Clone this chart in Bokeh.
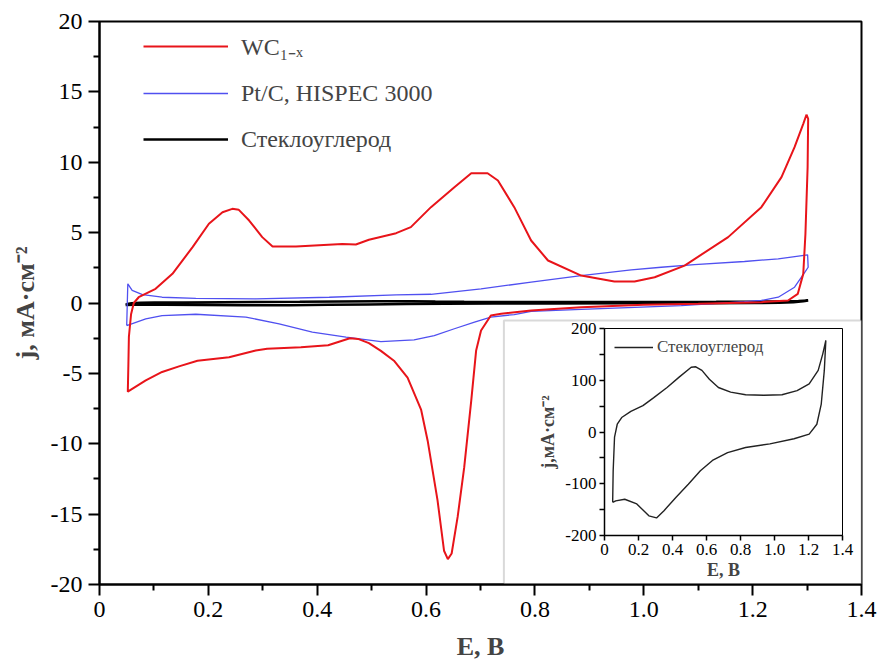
from bokeh.plotting import figure
from bokeh.models import (Legend, LegendItem, BoxAnnotation, FixedTicker, Range1d,
                          NumeralTickFormatter)
from bokeh.layouts import column
from bokeh.embed import file_html
from bokeh.resources import INLINE

# ---------------- data ----------------
# WC(1-x): potential E, V and current density j, mA/cm2 (closed loop)
red_E = [1.299, 1.302, 1.301, 1.297, 1.293, 1.283, 1.265, 1.216, 1.10, 1.00, 0.885, 0.793,
         0.738, 0.719, 0.701, 0.692, 0.683, 0.670, 0.658, 0.647, 0.640, 0.633, 0.621, 0.603,
         0.591, 0.566, 0.541, 0.517, 0.495, 0.475, 0.46, 0.44, 0.42, 0.37, 0.308, 0.287,
         0.238, 0.18, 0.146, 0.115, 0.085, 0.052, 0.053, 0.054, 0.058, 0.063, 0.072, 0.103,
         0.134, 0.171, 0.201, 0.226, 0.244, 0.256, 0.275, 0.299, 0.318, 0.361, 0.446, 0.471,
         0.495, 0.545, 0.572, 0.609, 0.652, 0.683, 0.713, 0.732, 0.762, 0.793, 0.824, 0.885,
         0.946, 0.983, 1.020, 1.075, 1.155, 1.216, 1.253, 1.277, 1.293, 1.299]
red_j = [13.39, 13.09, 9.65, 4.92, 2.07, 0.65, 0.18, 0.06, -0.05, -0.13, -0.3, -0.53,
         -0.77, -0.89, -1.95, -3.37, -6.93, -11.7, -15.2, -17.8, -18.2, -17.6, -14.0, -9.8,
         -7.6, -5.3, -4.1, -3.4, -2.85, -2.55, -2.5, -2.75, -3.0, -3.14, -3.25, -3.37,
         -3.85, -4.1, -4.5, -4.9, -5.5, -6.3, -4.5, -2.4, -0.8, 0.0, 0.41, 1.01,
         2.07, 3.97, 5.63, 6.45, 6.69, 6.62, 5.86, 4.68, 4.01, 4.01, 4.2, 4.16,
         4.49, 4.96, 5.39, 6.81, 8.23, 9.22, 9.22, 8.7, 6.81, 4.44, 3.02, 1.95,
         1.53, 1.53, 1.83, 2.66, 4.68, 6.81, 8.94, 11.07, 12.73, 13.39]

# Pt/C HISPEC 3000
blue_E = [0.050, 0.052, 0.060, 0.079, 0.115, 0.177, 0.287, 0.422, 0.545, 0.609, 0.701, 0.793,
          0.885, 0.977, 1.032, 1.093, 1.185, 1.247, 1.301, 1.302, 1.296, 1.277, 1.247, 1.216,
          1.185, 1.069, 0.885, 0.793, 0.762, 0.719, 0.689, 0.652, 0.615, 0.578, 0.517, 0.453,
          0.391, 0.330, 0.269, 0.177, 0.115, 0.085, 0.050]
blue_j = [-1.6, 1.36, 0.89, 0.6, 0.41, 0.33, 0.3, 0.41, 0.58, 0.62, 1.01, 1.48,
          1.95, 2.36, 2.54, 2.73, 2.95, 3.14, 3.42, 2.54, 2.19, 1.12, 0.41, 0.18,
          0.1, -0.18, -0.46, -0.6, -0.82, -1.0, -1.36, -1.83, -2.31, -2.62, -2.75, -2.43,
          -2.07, -1.48, -1.0, -0.8, -0.89, -1.12, -1.6]

# Glassy carbon (Стеклоуглерод)
gc_E = [0.048, 0.051, 0.059, 0.075, 0.101, 0.155, 0.226, 0.288, 0.368, 0.439, 0.510, 0.537,
        0.573, 0.617, 0.670, 0.742, 0.830, 0.937, 1.044, 1.133, 1.204, 1.257, 1.284, 1.302,
        1.293, 1.275, 1.249, 1.204, 1.115, 0.973, 0.830, 0.724, 0.635, 0.564, 0.493, 0.421,
        0.350, 0.306, 0.261, 0.190, 0.119, 0.066, 0.048]
# inset units
gc_j_inset = [-136, -75, -10, 15, 28, 40, 51, 66, 86, 106, 125, 126,
              119, 102, 86, 77, 72, 71, 72, 80, 93, 119, 151, 177,
              119, 54, 15, -4, -13, -23, -30, -40, -55, -75, -101, -126,
              -152, -166, -162, -139, -130, -133, -136]
# main-plot units
gc_j_main = [-0.136, -0.075, -0.010, 0.015, 0.028, 0.040, 0.051, 0.066, 0.086, 0.106, 0.125, 0.126,
             0.119, 0.102, 0.086, 0.077, 0.072, 0.071, 0.072, 0.080, 0.093, 0.119, 0.151, 0.177,
             0.119, 0.054, 0.015, -0.004, -0.013, -0.023, -0.030, -0.040, -0.055, -0.075, -0.101, -0.126,
             -0.152, -0.166, -0.162, -0.139, -0.130, -0.133, -0.136]

main_x_ticks = [0, 0.2, 0.4, 0.6, 0.8, 1.0, 1.2, 1.4]
main_x_minor = [0.1, 0.3, 0.5, 0.7, 0.9, 1.1, 1.3]
main_y_ticks = [-20, -15, -10, -5, 0, 5, 10, 15, 20]
main_y_minor = [-17.5, -12.5, -7.5, -2.5, 2.5, 7.5, 12.5, 17.5]
inset_y_ticks = [-200, -100, 0, 100, 200]
inset_y_minor = [-150, -50, 50, 150]

labels = ["WC\u2081\u208b\u2093", "Pt/C, HISPEC 3000", "Стеклоуглерод"]

SERIF = "Liberation Serif"
RED = "#e8141a"
BLUE = "#5050f0"

# ---------------- main figure ----------------
p = figure(width=879, height=668, x_range=Range1d(0, 1.4), y_range=Range1d(-20, 20),
           output_backend="svg", toolbar_location=None,
           min_border_left=99, min_border_right=18, min_border_top=21, min_border_bottom=84)
p.xgrid.visible = False
p.ygrid.visible = False
p.outline_line_color = "black"
p.outline_line_width = 2
p.background_fill_color = "white"
p.border_fill_color = "white"

for ax in (p.xaxis[0], p.yaxis[0]):
    ax.axis_line_width = 2
    ax.major_tick_line_width = 2
    ax.minor_tick_line_width = 2
    ax.major_tick_in = 0
    ax.minor_tick_in = 0
    ax.major_tick_out = 11
    ax.minor_tick_out = 6
    ax.major_label_text_font = SERIF
    ax.major_label_text_font_size = "24px"
    ax.major_label_text_color = "black"
    ax.axis_label_text_font = SERIF
    ax.axis_label_text_font_size = "26px"
    ax.axis_label_text_font_style = "bold"
    ax.major_label_standoff = 6

p.xaxis.ticker = FixedTicker(ticks=main_x_ticks, minor_ticks=main_x_minor)
p.yaxis.ticker = FixedTicker(ticks=main_y_ticks, minor_ticks=main_y_minor)
p.xaxis.formatter = NumeralTickFormatter(format="0.0")
p.xaxis.major_label_overrides = {0: "0"}
p.yaxis.major_label_overrides = {t: str(t) for t in main_y_ticks}
p.xaxis.axis_label = "E, B"
p.yaxis.axis_label = "j, мА·см\u207b\u00b2"
p.xaxis.axis_label_standoff = 12
p.yaxis.axis_label_standoff = 8

# inset frame box (grey) in the lower-right corner
p.add_layout(BoxAnnotation(left=0.743, right=1.4, top=-1.24, bottom=-20,
                           fill_color="white", fill_alpha=1.0,
                           line_color="#808080", line_width=2, level="underlay"))

r_gc = p.line(gc_E, gc_j_main, line_color="black", line_width=2.5)
r_blue = p.line(blue_E, blue_j, line_color=BLUE, line_width=1.3)
r_red = p.line(red_E, red_j, line_color=RED, line_width=2)

leg = Legend(items=[LegendItem(label=labels[0], renderers=[r_red]),
                    LegendItem(label=labels[1], renderers=[r_blue]),
                    LegendItem(label=labels[2], renderers=[r_gc])],
             location=(44, 430), orientation="vertical",
             glyph_width=85, glyph_height=30, label_height=30, spacing=16,
             label_standoff=13, padding=0, margin=0,
             border_line_alpha=0, background_fill_alpha=0,
             label_text_font=SERIF, label_text_font_size="24px")
p.add_layout(leg)

# ---------------- inset figure ----------------
ins = figure(width=355, height=271, x_range=Range1d(0, 1.4), y_range=Range1d(-200, 200),
             output_backend="svg", toolbar_location=None,
             min_border_left=83, min_border_right=10, min_border_top=16, min_border_bottom=48,
             styles={"position": "absolute", "left": "505px", "top": "312px"})
ins.xgrid.visible = False
ins.ygrid.visible = False
ins.outline_line_color = "black"
ins.outline_line_width = 1
ins.background_fill_color = "white"
ins.border_fill_alpha = 0
for ax in (ins.xaxis[0], ins.yaxis[0]):
    ax.axis_line_width = 1.5
    ax.major_tick_line_width = 1.5
    ax.minor_tick_line_width = 1.5
    ax.major_tick_in = 0
    ax.minor_tick_in = 0
    ax.major_tick_out = 5
    ax.minor_tick_out = 5
    ax.major_label_text_font = SERIF
    ax.major_label_text_font_size = "17px"
    ax.major_label_text_color = "black"
    ax.major_label_standoff = 3
    ax.axis_label_text_font = SERIF
    ax.axis_label_text_font_size = "18px"
    ax.axis_label_text_font_style = "bold"
ins.xaxis.ticker = FixedTicker(ticks=main_x_ticks, minor_ticks=[])
ins.yaxis.ticker = FixedTicker(ticks=inset_y_ticks, minor_ticks=inset_y_minor)
ins.xaxis.formatter = NumeralTickFormatter(format="0.0")
ins.xaxis.major_label_overrides = {0: "0"}
ins.yaxis.major_label_overrides = {t: str(t) for t in inset_y_ticks}
ins.xaxis.axis_label = "E, B"
ins.yaxis.axis_label = "j,мА·см\u207b\u00b2"
ins.xaxis.axis_label_standoff = 2
ins.yaxis.axis_label_standoff = 4

r_in = ins.line(gc_E, gc_j_inset, line_color="#222222", line_width=1.4)
leg2 = Legend(items=[LegendItem(label=labels[2], renderers=[r_in])],
              location=(10, 178), glyph_width=39, glyph_height=20, label_height=20,
              label_standoff=4, padding=0, margin=0, border_line_alpha=0,
              background_fill_alpha=0, label_text_font=SERIF, label_text_font_size="17px")
ins.add_layout(leg2)

layout = column(p, ins)
open("out.html", "w").write(file_html(layout, INLINE))
